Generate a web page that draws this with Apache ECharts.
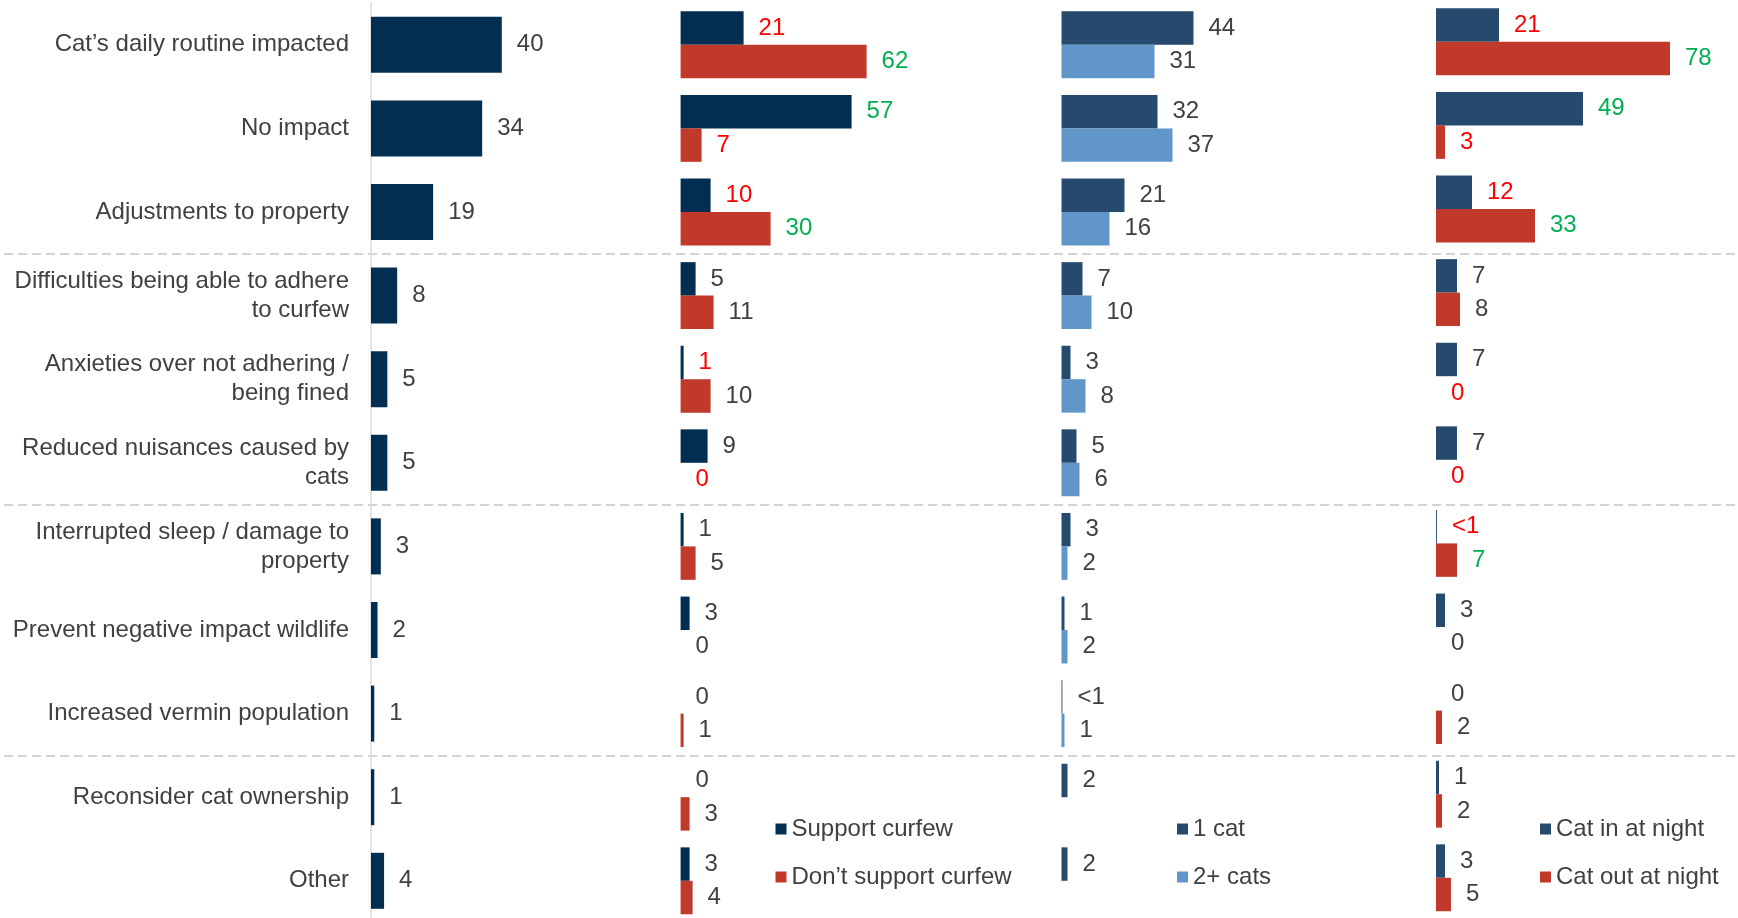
<!DOCTYPE html>
<html><head><meta charset="utf-8">
<script src="https://cdn.jsdelivr.net/npm/echarts@6/dist/echarts.min.js"></script>
<style>html,body{margin:0;padding:0;background:#fff}#c{width:1738px;height:918px}</style>
</head><body><div id="c"></div>
<script>
const categories = [
  'Cat\u2019s daily routine impacted',
  'No impact',
  'Adjustments to property',
  'Difficulties being able to adhere\nto curfew',
  'Anxieties over not adhering /\nbeing fined',
  'Reduced nuisances caused by\ncats',
  'Interrupted sleep / damage to\nproperty',
  'Prevent negative impact wildlife',
  'Increased vermin population',
  'Reconsider cat ownership',
  'Other'
];
const overall     = [40, 34, 19, 8, 5, 5, 3, 2, 1, 1, 4];
const support     = [21, 57, 10, 5, 1, 9, 1, 3, 0, 0, 3];
const noSupport   = [62, 7, 30, 11, 10, 0, 5, 0, 1, 3, 4];
const oneCat      = [44, 32, 21, 7, 3, 5, 3, 1, 0.3, 2, 2];
const twoPlusCats = [31, 37, 16, 10, 8, 6, 2, 2, 1, '-', '-'];
const catIn       = [21, 49, 12, 7, 7, 7, 0.3, 3, 0, 1, 3];
const catOut      = [78, 3, 33, 8, 0, 0, 7, 0, 2, 2, 5];
// significance: 'H' = significantly higher, 'L' = significantly lower, '' = not significant
const supportSig   = ['L', 'H', 'L', '', 'L', '', '', '', '', '', ''];
const noSupportSig = ['H', 'L', 'H', '', '', 'L', '', '', '', '', ''];
const catInSig     = ['L', 'H', 'L', '', '', '', 'L', '', '', '', ''];
const catOutSig    = ['H', 'L', 'H', '', 'L', 'L', 'H', '', '', '', ''];
const legendSupport = ['Support curfew', 'Don\u2019t support curfew'];
const legendCats    = ['1 cat', '2+ cats'];
const legendNight   = ['Cat in at night', 'Cat out at night'];

const FONT = '"Liberation Sans", Arial, sans-serif';
const GREY = '#404040';
const sigColor = s => s === 'H' ? '#00B050' : (s === 'L' ? '#FF0000' : GREY);
const fmt = p => (p.value > 0 && p.value < 1) ? '<1' : String(p.value);
function build(vals, sig) {
  return vals.map((v, i) => (v === '-' ? '-' : { value: v, label: { color: sigColor(sig ? sig[i] : '') } }));
}
const labelCfg = { show: true, position: 'right', distance: 15, fontSize: 24, fontFamily: FONT, color: GREY,
  formatter: fmt, padding: [4, 0, 0, 0] };

const H = 919.6;
const grids = [
  { left: 371, top: 3, width: 261.6, height: H },
  { left: 680.6, top: 3, width: 300, height: H },
  { left: 1061.5, top: 3, width: 300, height: H },
  { left: 1436, top: 0, width: 300, height: H },
  { left: 4, right: 0, top: 3, height: H }
].map(g => Object.assign(g, { outerBoundsMode: 'none', containLabel: false }));
const xAxes = grids.map((g, i) => ({ type: 'value', gridIndex: i, min: 0, max: i === 0 ? 80 : 100, show: false }));
const yAxes = grids.map((g, i) => {
  const base = { type: 'category', gridIndex: i, data: categories, inverse: true };
  if (i === 0) {
    return Object.assign(base, {
      axisLine: { show: true, lineStyle: { color: '#D9D9D9', width: 1.5 } },
      axisTick: { show: false },
      splitLine: { show: false },
      axisLabel: { fontSize: 24, color: GREY, fontFamily: FONT, margin: 22, lineHeight: 29, padding: [4, 0, 0, 0] }
    });
  }
  if (i === 4) {
    return Object.assign(base, {
      axisLine: { show: false }, axisTick: { show: false }, axisLabel: { show: false },
      splitLine: { show: true, showMaxLine: false, interval: (idx) => idx === 3 || idx === 6 || idx === 9,
        lineStyle: { color: '#D3D3D3', width: 2, type: [9, 5] } }
    });
  }
  return Object.assign(base, { show: false });
});

const legendBase = { orient: 'vertical', itemWidth: 11, itemHeight: 11, itemGap: 24, padding: 0, icon: 'rect',
  selectedMode: false, textStyle: { fontSize: 24, color: GREY, fontFamily: FONT, lineHeight: 24 } };

const option = {
  animation: false,
  backgroundColor: '#ffffff',
  grid: grids,
  xAxis: xAxes,
  yAxis: yAxes,
  legend: [
    Object.assign({}, legendBase, { data: legendSupport, left: 775.5, top: 817 }),
    Object.assign({}, legendBase, { data: legendCats, left: 1177, top: 817 }),
    Object.assign({}, legendBase, { data: legendNight, left: 1540, top: 817 })
  ],
  series: [
    { name: 'Overall', type: 'bar', xAxisIndex: 0, yAxisIndex: 0, data: build(overall), barCategoryGap: '33%',
      itemStyle: { color: '#022E51' }, label: labelCfg },
    { name: legendSupport[0], type: 'bar', xAxisIndex: 1, yAxisIndex: 1, data: build(support, supportSig),
      barGap: '0%', barCategoryGap: '20%', itemStyle: { color: '#022E51' }, label: labelCfg },
    { name: legendSupport[1], type: 'bar', xAxisIndex: 1, yAxisIndex: 1, data: build(noSupport, noSupportSig),
      barGap: '0%', barCategoryGap: '20%', itemStyle: { color: '#C0392B' }, label: labelCfg },
    { name: legendCats[0], type: 'bar', xAxisIndex: 2, yAxisIndex: 2, data: build(oneCat),
      barGap: '0%', barCategoryGap: '20%', itemStyle: { color: '#264A6E' }, label: labelCfg },
    { name: legendCats[1], type: 'bar', xAxisIndex: 2, yAxisIndex: 2, data: build(twoPlusCats),
      barGap: '0%', barCategoryGap: '20%', itemStyle: { color: '#6096C8' }, label: labelCfg },
    { name: legendNight[0], type: 'bar', xAxisIndex: 3, yAxisIndex: 3, data: build(catIn, catInSig),
      barGap: '0%', barCategoryGap: '20%', itemStyle: { color: '#264A6E' }, label: labelCfg },
    { name: legendNight[1], type: 'bar', xAxisIndex: 3, yAxisIndex: 3, data: build(catOut, catOutSig),
      barGap: '0%', barCategoryGap: '20%', itemStyle: { color: '#C0392B' }, label: labelCfg },
    { name: 'sep', type: 'bar', xAxisIndex: 4, yAxisIndex: 4, data: [], silent: true }
  ]
};
const chart = echarts.init(document.getElementById('c'), null, { renderer: 'canvas' });
chart.setOption(option);
</script>
</body></html>
